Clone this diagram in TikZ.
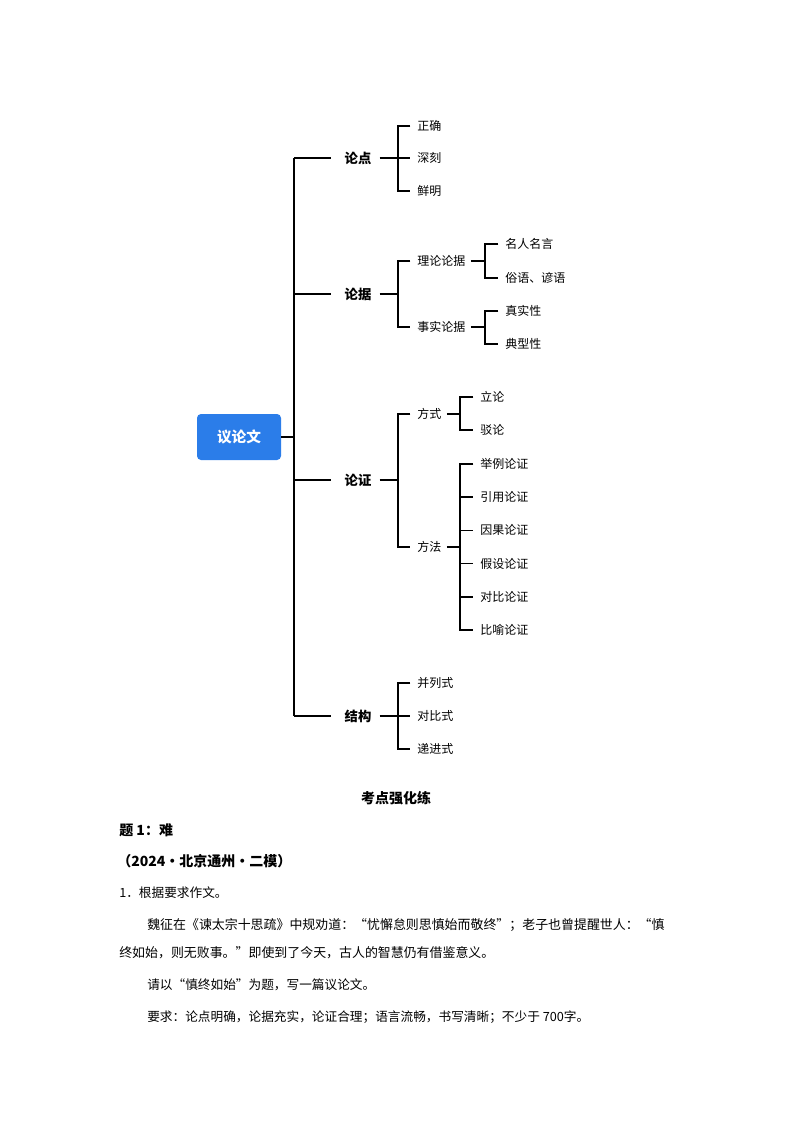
\documentclass[tikz,border=0pt]{standalone}
\usepackage{fontspec}
\newfontfamily\cjk{Noto Sans CJK SC}
\definecolor{rootblue}{HTML}{2B7DE9}
\tikzset{
  branch/.style={line width=1.1pt, black},
  topic/.style={inner sep=0pt, font=\cjk\bfseries\fontsize{10}{12}\selectfont},
  leaf/.style={inner sep=0pt, anchor=west, font=\cjk\fontsize{9}{11}\selectfont},
  body/.style={inner sep=0pt, anchor=west, font=\cjk\fontsize{9.5}{11}\selectfont}
}
\begin{document}
\begin{tikzpicture}[x=0.75pt, y=-0.75pt]
		\useasboundingbox[fill=white] (0,0) rectangle (794,1123);
		% root
		\node[fill=rootblue, rounded corners=3pt, minimum width=63pt, minimum height=34.5pt, text=white,
			font=\cjk\bfseries\fontsize{11}{13}\selectfont] (root) at (239,437) {议论文};
		\draw[branch] (root.east) -- (294,437);
		\draw[branch] (294,158) -- (294,716);

		\node[topic] (pt) at (358,158) {论点};
		\node[topic] (ev) at (358,294) {论据};
		\node[topic] (ar) at (358,480) {论证};
		\node[topic] (st) at (358,716) {结构};
		\foreach \n in {pt,ev,ar,st} {
			\draw[branch] (294,0 |- \n) -- ([xshift=-10pt]\n.west);
			\draw[branch] ([xshift=6pt]\n.east) -- (398,0 |- \n);
		}

		% 论点
		\node[leaf] (pt1) at (417,126) {正确};
		\node[leaf] (pt2) at (417,158) {深刻};
		\node[leaf] (pt3) at (417,191) {鲜明};
		\draw[branch] ([xshift=-5pt]pt1.west) -| (398,0 |- pt3) -- ([xshift=-5pt]pt3.west);
		\draw[branch] (398,0 |- pt2) -- ([xshift=-5pt]pt2.west);

		% 论据
		\node[leaf] (ev1) at (417,261) {理论论据};
		\node[leaf] (ev2) at (417,327) {事实论据};
		\draw[branch] ([xshift=-5pt]ev1.west) -| (398,0 |- ev2) -- ([xshift=-5pt]ev2.west);
		\node[leaf] (ev11) at (505,244) {名人名言};
		\node[leaf] (ev12) at (505,278) {俗语、谚语};
		\node[leaf] (ev21) at (505,311) {真实性};
		\node[leaf] (ev22) at (505,344) {典型性};
		\draw[branch] ([xshift=4pt]ev1.east) -- (485,0 |- ev1);
		\draw[branch] ([xshift=-5pt]ev11.west) -| (485,0 |- ev12) -- ([xshift=-5pt]ev12.west);
		\draw[branch] ([xshift=4pt]ev2.east) -- (485,0 |- ev2);
		\draw[branch] ([xshift=-5pt]ev21.west) -| (485,0 |- ev22) -- ([xshift=-5pt]ev22.west);

		% 论证
		\node[leaf] (ar1) at (417,414) {方式};
		\node[leaf] (ar2) at (417,547) {方法};
		\draw[branch] ([xshift=-5pt]ar1.west) -| (398,0 |- ar2) -- ([xshift=-5pt]ar2.west);
		\draw[branch] ([xshift=4pt]ar1.east) -- (460,0 |- ar1);
		\draw[branch] ([xshift=4pt]ar2.east) -- (460,0 |- ar2);
		\node[leaf] (ar11) at (480,397) {立论};
		\node[leaf] (ar12) at (480,430) {驳论};
		\draw[branch] ([xshift=-5pt]ar11.west) -| (460,0 |- ar12) -- ([xshift=-5pt]ar12.west);
		\foreach \t [count=\i] in {举例论证,引用论证,因果论证,假设论证,对比论证,比喻论证}
			\node[leaf] (ar2\i) at (480,464+33.2*\i-33.2) {\t};
		\draw[branch] ([xshift=-5pt]ar21.west) -| (460,0 |- ar26) -- ([xshift=-5pt]ar26.west);
		\foreach \i in {2,...,5}
			\draw[branch] (460,0 |- ar2\i) -- ([xshift=-5pt]ar2\i.west);

		% 结构
		\node[leaf] (st1) at (417,683) {并列式};
		\node[leaf] (st2) at (417,716) {对比式};
		\node[leaf] (st3) at (417,749) {递进式};
		\draw[branch] ([xshift=-5pt]st1.west) -| (398,0 |- st3) -- ([xshift=-5pt]st3.west);
		\draw[branch] (398,0 |- st2) -- ([xshift=-5pt]st2.west);

		% exercise text
		\node[inner sep=0pt, font=\cjk\bfseries\fontsize{10.5}{12}\selectfont] (title) at (396,798) {考点强化练};
		\node[body, font=\cjk\bfseries\fontsize{10.5}{12}\selectfont] (q) at (119,830) {题 1：难};
		\node[body, font=\cjk\bfseries\fontsize{10.5}{12}\selectfont] (src) at (117,861) {（2024·北京通州·二模）};
		\node[body] (t1) at (119,893) {1．根据要求作文。};
		\node[body, font=\cjk\fontsize{9.7}{11}\selectfont] (t2) at (147,925) {魏征在《谏太宗十思疏》中规劝道：“忧懈怠则思慎始而敬终”；老子也曾提醒世人：“慎};
		\node[body, font=\cjk\fontsize{9.7}{11}\selectfont] (t3) at (119,953) {终如始，则无败事。”即使到了今天，古人的智慧仍有借鉴意义。};
		\node[body] (t4) at (147,985) {请以“慎终如始”为题，写一篇议论文。};
		\node[body] (t5) at (147,1017) {要求：论点明确，论据充实，论证合理；语言流畅，书写清晰；不少于 700字。};
	\end{tikzpicture}
\end{document}
